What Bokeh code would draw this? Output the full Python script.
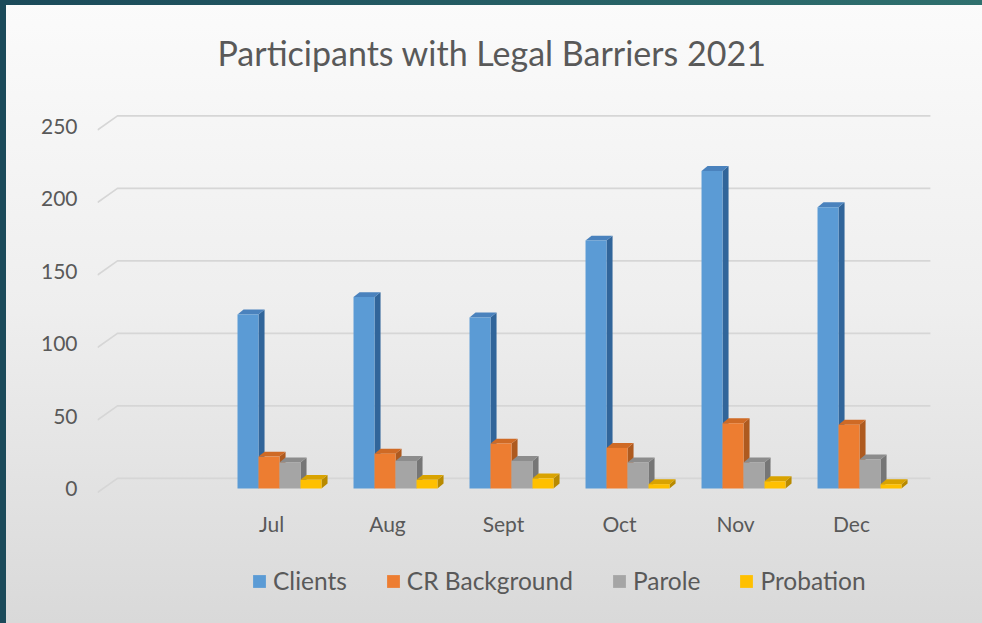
from bokeh.plotting import figure
from bokeh.models import Range1d, FixedTicker, Legend, LegendItem
from bokeh.embed import file_html
from bokeh.resources import INLINE

# ---- data -------------------------------------------------------------
months = ["Jul", "Aug", "Sept", "Oct", "Nov", "Dec"]
clients = [120, 132, 118, 171, 219, 194]
cr_background = [22, 24, 31, 28, 45, 44]
parole = [18, 19, 19, 18, 18, 20]
probation = [6, 6, 7, 3, 5, 3]
y_ticks = [0, 50, 100, 150, 200, 250]
series_names = ["Clients", "CR Background", "Parole", "Probation"]

# ---- style ------------------------------------------------------------
FONT = "Lato"
TXT = "#595959"
front_colors = ["#5b9bd5", "#ed7d31", "#a5a5a5", "#ffc000"]
side_colors = ["#31659a", "#ae5a1f", "#767676", "#b88a00"]
top_colors = ["#4a82bd", "#cf6a25", "#8c8c8c", "#d9a300"]

EMPTY_SLOTS = 1          # an empty category slot before Jul
BAR_W = 0.181            # bar width in category units
GROUP_OFF = -0.293       # left edge of first bar relative to slot centre
DX, DY = 0.052, 3.4      # 3-D side depth (x units, value units)
BACK_X0, BACK_X1, BACK_DY = 0.172, 7.18, 7.0
FRONT_DY = -2.76

p = figure(width=982, height=623, output_backend="svg", toolbar_location=None,
           x_range=Range1d(0, 7.224), y_range=Range1d(-93.1, 267.6),
           min_border_left=97, min_border_right=47,
           min_border_top=100, min_border_bottom=0)
p.styles = {
    "background-image": ("linear-gradient(#1b4a5a, #1b4a5a), "
                         "linear-gradient(to right, #1b4a5a, #2f706e), "
                         "linear-gradient(to bottom, #fbfbfb 0%, #eeeeee 50%, #d9d9d9 100%)"),
    "background-size": "6px 100%, 100% 5px, 100% 100%",
    "background-repeat": "no-repeat",
    "background-position": "0 0, 0 0, 0 0",
}
p.border_fill_alpha = 0
p.background_fill_alpha = 0
p.outline_line_color = None
p.grid.visible = False

# title
p.title.text = "Participants with Legal Barriers 2021"
p.title.text_font = FONT
p.title.text_font_style = "normal"
p.title.text_font_size = "34px"
p.title.text_color = TXT
p.title.align = "left"
p.title.offset = 120
p.title.standoff = 56

# gridlines on the back wall plus the small perspective diagonals
gx, gy = [], []
for v in y_ticks:
    gx.append([0, BACK_X0, BACK_X1])
    gy.append([v + FRONT_DY, v + BACK_DY, v + BACK_DY])
p.multi_line(gx, gy, line_color="#d6d6d6", line_width=1.6)

# bars
all_vals = [clients, cr_background, parole, probation]
front_renderers = []
for k, vals in enumerate(all_vals):
    xs_c, lefts, rights = [], [], []
    for j, v in enumerate(vals):
        xc = EMPTY_SLOTS + j + 0.5
        left = xc + GROUP_OFF + k * BAR_W
        lefts.append(left)
        rights.append(left + BAR_W)
        xs_c.append(left + BAR_W / 2)
    side_xs = [[r, r + DX, r + DX, r] for r in rights]
    side_ys = [[0, DY, v + DY, v] for v in vals]
    top_xs = [[l, r, r + DX, l + DX] for l, r in zip(lefts, rights)]
    top_ys = [[v, v, v + DY, v + DY] for v in vals]
    p.patches(side_xs, side_ys, fill_color=side_colors[k], line_color=None)
    p.patches(top_xs, top_ys, fill_color=top_colors[k], line_color=None)
    r = p.vbar(x=xs_c, width=BAR_W, top=vals, bottom=0,
               fill_color=front_colors[k], line_color=None)
    front_renderers.append(r)

# axes
p.yaxis.ticker = FixedTicker(ticks=y_ticks)
p.yaxis.axis_line_color = None
p.yaxis.major_tick_line_color = None
p.yaxis.minor_tick_line_color = None
p.yaxis.major_tick_out = 0
p.yaxis.major_label_standoff = 20
p.yaxis.major_label_text_font = FONT
p.yaxis.major_label_text_font_size = "21px"
p.yaxis.major_label_text_color = TXT

tick_pos = [EMPTY_SLOTS + j + 0.5 for j in range(len(months))]
p.xaxis.ticker = FixedTicker(ticks=tick_pos)
p.xaxis.major_label_overrides = {t: m for t, m in zip(tick_pos, months)}
p.xaxis.fixed_location = FRONT_DY
p.xaxis.axis_line_color = None
p.xaxis.major_tick_line_color = None
p.xaxis.minor_tick_line_color = None
p.xaxis.major_tick_out = 0
p.xaxis.major_label_standoff = 18
p.xaxis.major_label_text_font = FONT
p.xaxis.major_label_text_font_size = "21px"
p.xaxis.major_label_text_color = TXT

# legend
legend = Legend(items=[LegendItem(label=n, renderers=[r]) for n, r in zip(series_names, front_renderers)],
                orientation="horizontal", location=(154, 28),
                glyph_width=16, glyph_height=16, label_standoff=6, spacing=38,
                label_text_font=FONT, label_text_font_size="24.5px", label_text_color=TXT,
                border_line_color=None, background_fill_alpha=0, padding=0, margin=0)
p.add_layout(legend)

open("out.html", "w").write(file_html(p, INLINE))
